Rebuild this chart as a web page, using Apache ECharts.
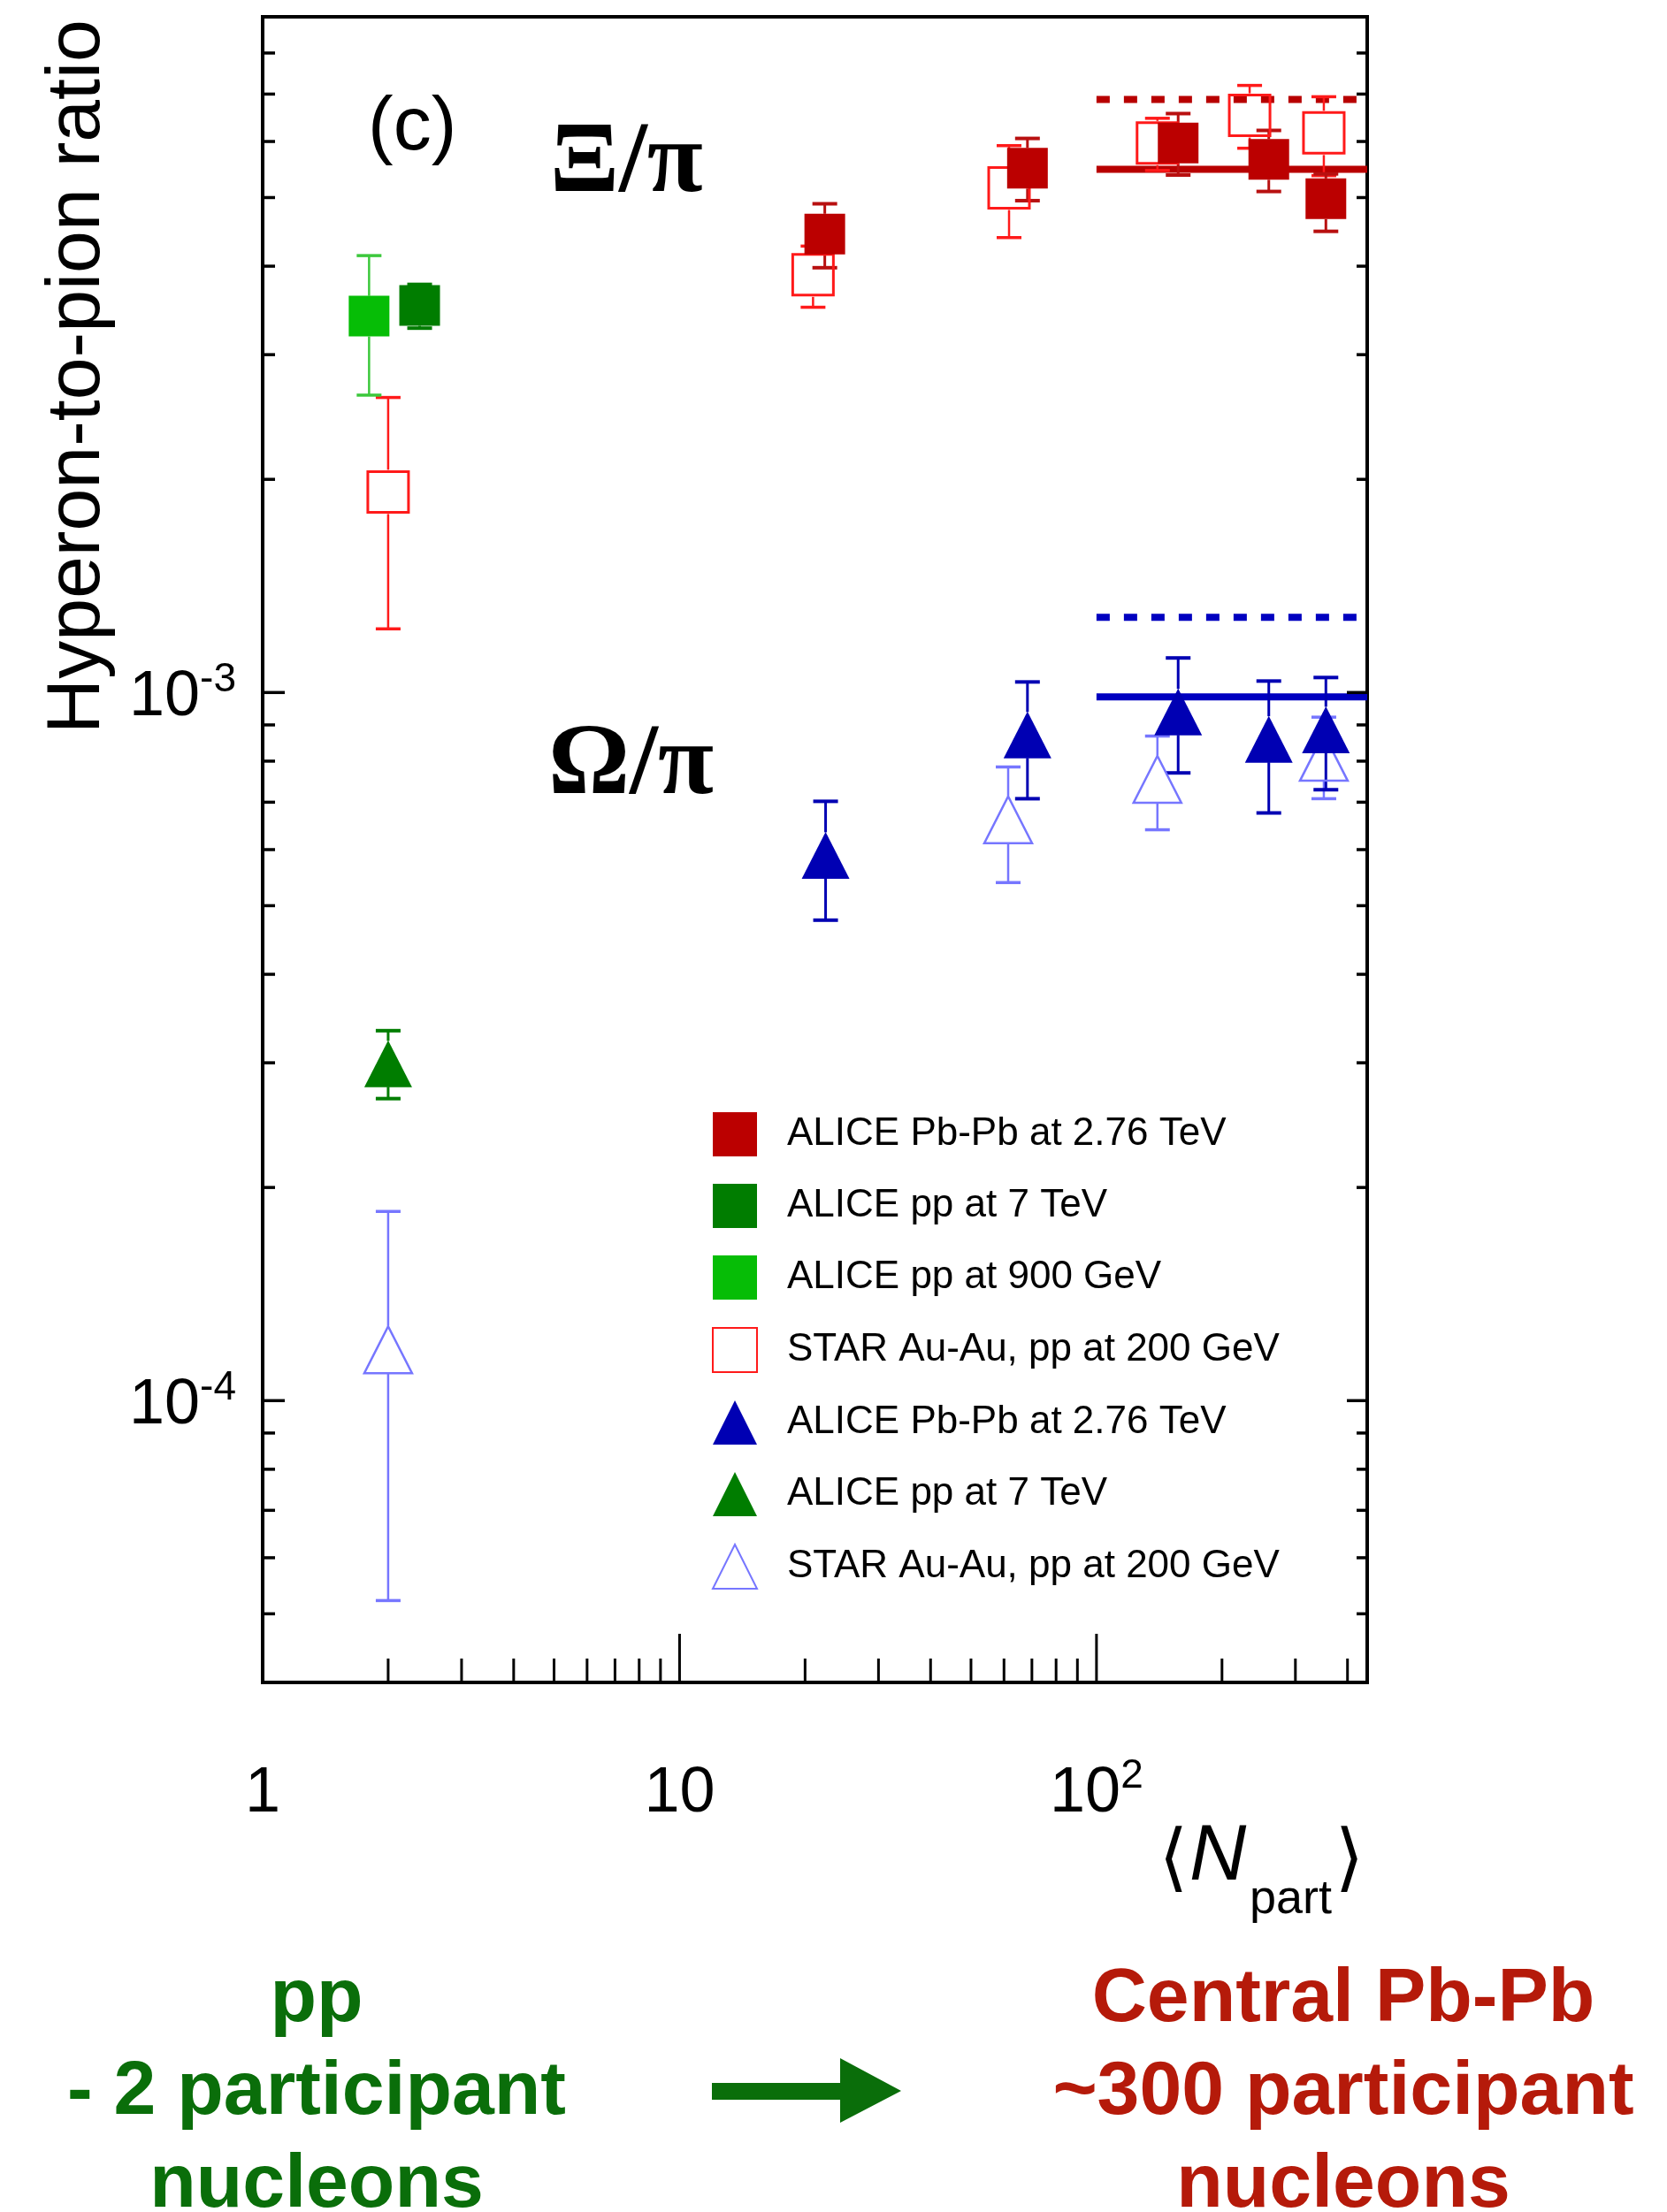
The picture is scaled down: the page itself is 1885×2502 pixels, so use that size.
<!DOCTYPE html>
<html><head><meta charset="utf-8">
<script src="https://cdn.jsdelivr.net/npm/echarts@6/dist/echarts.min.js"></script>
<style>html,body{margin:0;padding:0;background:#fff}#c{width:1885px;height:2502px}</style>
</head><body><div id="c"></div>
<script>
// ---------------- axis ranges ----------------
const X_MIN = 1, X_MAX = 446, Y_MIN = 4e-5, Y_MAX = 9e-3;

// ---------------- Xi/pi data ----------------
// ALICE Pb-Pb at 2.76 TeV
const xiPbPbN   = [22.3, 68.3, 157, 259, 355];
const xiPbPbVal = [4.44e-3, 5.50e-3, 5.97e-3, 5.66e-3, 4.98e-3];
const xiPbPbLo  = [3.98e-3, 4.95e-3, 5.38e-3, 5.10e-3, 4.48e-3];
const xiPbPbHi  = [4.90e-3, 6.06e-3, 6.57e-3, 6.22e-3, 5.40e-3];
// ALICE pp at 7 TeV
const xiPp7N   = [2.38];
const xiPp7Val = [3.52e-3];
const xiPp7Lo  = [3.27e-3];
const xiPp7Hi  = [3.77e-3];
// ALICE pp at 900 GeV
const xiPp900N   = [1.8];
const xiPp900Val = [3.40e-3];
const xiPp900Lo  = [2.63e-3];
const xiPp900Hi  = [4.14e-3];
// STAR Au-Au, pp at 200 GeV
const xiStarN   = [2.0, 20.9, 61.7, 140, 233, 351];
const xiStarVal = [1.92e-3, 3.89e-3, 5.16e-3, 5.97e-3, 6.53e-3, 6.17e-3];
const xiStarLo  = [1.23e-3, 3.50e-3, 4.39e-3, 5.46e-3, 5.87e-3, 5.37e-3];
const xiStarHi  = [2.61e-3, 4.27e-3, 5.92e-3, 6.47e-3, 7.20e-3, 6.94e-3];

// ---------------- Omega/pi data ----------------
const omPbPbN   = [22.4, 68.3, 157, 259, 355];
const omPbPbVal = [5.89e-4, 8.71e-4, 9.39e-4, 8.59e-4, 8.86e-4];
const omPbPbLo  = [4.77e-4, 7.08e-4, 7.70e-4, 6.76e-4, 7.29e-4];
const omPbPbHi  = [7.02e-4, 1.035e-3, 1.119e-3, 1.038e-3, 1.05e-3];
const omPp7N   = [2.0];
const omPp7Val = [2.99e-4];
const omPp7Lo  = [2.67e-4];
const omPp7Hi  = [3.33e-4];
const omStarN   = [2.0, 61.4, 140, 351];
const omStarVal = [1.18e-4, 6.61e-4, 7.54e-4, 8.10e-4];
const omStarLo  = [5.22e-5, 5.39e-4, 6.40e-4, 7.08e-4];
const omStarHi  = [1.85e-4, 7.85e-4, 8.68e-4, 9.23e-4];

// ---------------- model lines ----------------
const modelN = [100, 446];
const xiModelSolid = 5.48e-3, xiModelDotted = 6.88e-3;
const omModelSolid = 9.86e-4, omModelDotted = 1.277e-3;

// ---------------- ticks ----------------
const xMinorTicks = [2,3,4,5,6,7,8,9,20,30,40,50,60,70,80,90,200,300,400];
const xMajorTicks = [10, 100];
const yMinorTicks = [5e-5,6e-5,7e-5,8e-5,9e-5,2e-4,3e-4,4e-4,5e-4,6e-4,7e-4,8e-4,9e-4,2e-3,3e-3,4e-3,5e-3,6e-3,7e-3,8e-3];
const yMajorTicks = [1e-4, 1e-3];

// ---------------- texts ----------------
const legendKeys = ['xiPbPb','xiPp7','xiPp900','xiStar','omPbPb','omPp7','omStar'];
const legendLabels = ['ALICE Pb-Pb at 2.76 TeV','ALICE pp at 7 TeV','ALICE pp at 900 GeV','STAR Au-Au, pp at 200 GeV','ALICE Pb-Pb at 2.76 TeV','ALICE pp at 7 TeV','STAR Au-Au, pp at 200 GeV'];
const yTitle = 'Hyperon-to-pion ratio';
const leftLines = ['pp', '- 2 participant', 'nucleons'];
const rightLines = ['Central Pb-Pb', '~300 participant', 'nucleons'];

const SANS = '"Liberation Sans", Arial, Helvetica, sans-serif';
const NARROW = '"Liberation Sans Narrow", "Liberation Sans", Arial, sans-serif';
const SERIF = '"Liberation Serif", "Times New Roman", serif';

function powLabel(v) {
  const l = Math.log10(v), e = Math.round(l);
  if (Math.abs(l - e) > 1e-6) return '';
  if (e === 0) return '{b|1}';
  if (e === 1) return '{b|10}';
  return '{b|10}{s|' + (e < 0 ? '-' : '') + Math.abs(e) + '}';
}
const labelRich = {
  b: {fontSize: 72, lineHeight: 74, padding: [12, 0, 0, 0], fontFamily: NARROW, color: '#000'},
  s: {fontSize: 46, lineHeight: 48, verticalAlign: 'top', fontFamily: NARROW, color: '#000'}
};

function scatter(key, xs, ys, symbol, size, itemStyle, z) {
  itemStyle.opacity = 1;
  return {type: 'scatter', name: key, data: xs.map((x, i) => [x, ys[i]]),
    symbol: symbol, symbolSize: size, itemStyle: itemStyle, z: z, silent: true};
}
function errBars(xs, ys, lo, hi, color, half, lw) {
  return {type: 'custom', silent: true, z: 2, clip: false,
    data: xs.map((x, i) => [x, ys[i], lo[i], hi[i]]),
    encode: {x: 0, y: 1},
    renderItem: function (p, api) {
      const c = api.coord([api.value(0), api.value(1)]);
      const ph = api.coord([api.value(0), api.value(3)]);
      const pl = api.coord([api.value(0), api.value(2)]);
      const st = {stroke: color, lineWidth: lw};
      const cap = 14, ch = [];
      if (ph[1] < c[1] - half) ch.push({type: 'line', shape: {x1: c[0], y1: ph[1], x2: c[0], y2: c[1] - half}, style: st});
      if (pl[1] > c[1] + half) ch.push({type: 'line', shape: {x1: c[0], y1: c[1] + half, x2: c[0], y2: pl[1]}, style: st});
      ch.push({type: 'line', shape: {x1: c[0] - cap, y1: ph[1], x2: c[0] + cap, y2: ph[1]}, style: {stroke: color, lineWidth: lw + 1}});
      ch.push({type: 'line', shape: {x1: c[0] - cap, y1: pl[1], x2: c[0] + cap, y2: pl[1]}, style: {stroke: color, lineWidth: lw + 1}});
      return {type: 'group', children: ch};
    }};
}
function modelLine(v, color, dashed) {
  return {type: 'line', silent: true, z: 1, symbol: 'none',
    data: modelN.map(x => [x, v]),
    lineStyle: {color: color, width: 8, type: dashed ? [15, 16] : 'solid', cap: 'butt'}};
}

const C = {
  xiPbPb: '#bb0000', pp7: '#007d00', pp900: '#06bd06', star: '#ff1a1a',
  omPbPb: '#0000b3', omStar: '#7676ff', greenErr: '#3cc83c'
};

const series = [
  modelLine(xiModelSolid, '#b80000', false),
  modelLine(xiModelDotted, '#b80000', true),
  modelLine(omModelSolid, '#0000c0', false),
  modelLine(omModelDotted, '#0000c0', true),
  errBars(xiStarN, xiStarVal, xiStarLo, xiStarHi, C.star, 25, 2.5),
  errBars(xiPbPbN, xiPbPbVal, xiPbPbLo, xiPbPbHi, '#b81010', 23, 3),
  errBars(xiPp7N, xiPp7Val, xiPp7Lo, xiPp7Hi, C.pp7, 23, 3),
  errBars(xiPp900N, xiPp900Val, xiPp900Lo, xiPp900Hi, C.greenErr, 23, 2.5),
  errBars(omStarN, omStarVal, omStarLo, omStarHi, C.omStar, 27, 2.5),
  errBars(omPbPbN, omPbPbVal, omPbPbLo, omPbPbHi, C.omPbPb, 26, 3),
  errBars(omPp7N, omPp7Val, omPp7Lo, omPp7Hi, C.pp7, 26, 3),
  scatter('xiStar', xiStarN, xiStarVal, 'rect', 46, {color: 'rgba(255,255,255,0)', borderColor: C.star, borderWidth: 3}, 3),
  scatter('omStar', omStarN, omStarVal, 'triangle', [54, 53], {color: 'rgba(255,255,255,0)', borderColor: C.omStar, borderWidth: 2.5}, 3),
  scatter('xiPbPb', xiPbPbN, xiPbPbVal, 'rect', 46, {color: C.xiPbPb}, 4),
  scatter('xiPp7', xiPp7N, xiPp7Val, 'rect', 46, {color: C.pp7}, 4),
  scatter('xiPp900', xiPp900N, xiPp900Val, 'rect', 46, {color: C.pp900}, 4),
  scatter('omPbPb', omPbPbN, omPbPbVal, 'triangle', [54, 53], {color: C.omPbPb}, 4),
  scatter('omPp7', omPp7N, omPp7Val, 'triangle', [54, 53], {color: C.pp7}, 4),
  // axis ticks (inside), drawn through the axis scales
  {type: 'custom', silent: true, z: 6, clip: false,
   data: xMinorTicks.map(v => [v, Y_MIN, 0]).concat(xMajorTicks.map(v => [v, Y_MIN, 1])),
   encode: {x: 0, y: 1},
   renderItem: function (p, api) {
     const pt = api.coord([api.value(0), Y_MIN]);
     const len = api.value(2) ? 55 : 27;
     return {type: 'line', shape: {x1: pt[0], y1: pt[1], x2: pt[0], y2: pt[1] - len}, style: {stroke: '#000', lineWidth: 3}};
   }},
  {type: 'custom', silent: true, z: 6, clip: false,
   data: yMinorTicks.map(v => [X_MIN, v, 0]).concat(yMajorTicks.map(v => [X_MIN, v, 1])),
   encode: {x: 0, y: 1},
   renderItem: function (p, api) {
     const pl = api.coord([X_MIN, api.value(1)]);
     const pr = api.coord([X_MAX, api.value(1)]);
     const major = api.value(2) === 1;
     const ll = major ? 25 : 14, lr = major ? 23 : 12;
     return {type: 'group', children: [
       {type: 'line', shape: {x1: pl[0], y1: pl[1], x2: pl[0] + ll, y2: pl[1]}, style: {stroke: '#000', lineWidth: 3.5}},
       {type: 'line', shape: {x1: pr[0], y1: pr[1], x2: pr[0] - lr, y2: pr[1]}, style: {stroke: '#000', lineWidth: 3.5}}
     ]};
   }}
];

const chart = echarts.init(document.getElementById('c'), null, {renderer: 'canvas'});
chart.setOption({
  animation: false,
  backgroundColor: '#fff',
  grid: {left: 297, right: 339, top: 19, bottom: 599, show: true, borderColor: '#000', borderWidth: 4, backgroundColor: 'rgba(0,0,0,0)'},
  xAxis: {type: 'log', logBase: 10, min: X_MIN, max: X_MAX,
    axisLine: {show: false}, axisTick: {show: false}, splitLine: {show: false}, minorTick: {show: false},
    axisLabel: {formatter: powLabel, rich: labelRich, margin: 83, showMaxLabel: false, showMinLabel: true}},
  yAxis: {type: 'log', logBase: 10, min: Y_MIN, max: Y_MAX,
    axisLine: {show: false}, axisTick: {show: false}, splitLine: {show: false},
    axisLabel: {formatter: powLabel, rich: labelRich, margin: 30, showMaxLabel: false, showMinLabel: false}},
  legend: {
    orient: 'vertical', left: 800, top: 1253, itemWidth: 50, itemHeight: 50, itemGap: 31,
    selectedMode: false,
    data: legendKeys,
    formatter: function (n) { return legendLabels[legendKeys.indexOf(n)]; },
    textStyle: {fontSize: 44, lineHeight: 50, color: '#000', fontFamily: SANS, padding: [0, 0, 0, 29]}
  },
  series: series,
  graphic: [
    {type: 'text', x: 88, y: 426, rotation: Math.PI / 2,
     style: {text: yTitle, fontSize: 86, fontFamily: SANS, fill: '#000', align: 'center', verticalAlign: 'middle'}},
    {type: 'text', x: 416, y: 145, style: {text: '(c)', fontSize: 86, fontFamily: SANS, fill: '#000', align: 'left', verticalAlign: 'middle'}},
    {type: 'text', x: 622, y: 186, style: {text: 'Ξ/π', fontSize: 115, fontWeight: 'bold', fontFamily: SERIF, fill: '#000', align: 'left', verticalAlign: 'middle'}},
    {type: 'text', x: 620, y: 867, style: {text: 'Ω/π', fontSize: 115, fontWeight: 'bold', fontFamily: SERIF, fill: '#000', align: 'left', verticalAlign: 'middle'}},
    {type: 'text', x: 1327, y: 2107, style: {text: '⟨', fontSize: 84, fontFamily: '"DejaVu Sans", sans-serif', fill: '#000', align: 'center', verticalAlign: 'middle'}},
    {type: 'text', x: 1345, y: 2101, style: {text: 'N', fontSize: 89, fontStyle: 'italic', fontFamily: SANS, fill: '#000', align: 'left', verticalAlign: 'middle'}},
    {type: 'text', x: 1413, y: 2149, style: {text: 'part', fontSize: 54, fontFamily: SANS, fill: '#000', align: 'left', verticalAlign: 'middle'}},
    {type: 'text', x: 1526, y: 2107, style: {text: '⟩', fontSize: 84, fontFamily: '"DejaVu Sans", sans-serif', fill: '#000', align: 'center', verticalAlign: 'middle'}},
    {type: 'text', x: 358, y: 2262, style: {text: leftLines[0], fontSize: 86, fontWeight: 'bold', fontFamily: SANS, fill: '#0a6e0a', align: 'center', verticalAlign: 'middle'}},
    {type: 'text', x: 358, y: 2367, style: {text: leftLines[1], fontSize: 86, fontWeight: 'bold', fontFamily: SANS, fill: '#0a6e0a', align: 'center', verticalAlign: 'middle'}},
    {type: 'text', x: 358, y: 2472, style: {text: leftLines[2], fontSize: 86, fontWeight: 'bold', fontFamily: SANS, fill: '#0a6e0a', align: 'center', verticalAlign: 'middle'}},
    {type: 'text', x: 1519, y: 2262, style: {text: rightLines[0], fontSize: 86, fontWeight: 'bold', fontFamily: SANS, fill: '#b51a0a', align: 'center', verticalAlign: 'middle'}},
    {type: 'text', x: 1519, y: 2367, style: {text: rightLines[1], fontSize: 86, fontWeight: 'bold', fontFamily: SANS, fill: '#b51a0a', align: 'center', verticalAlign: 'middle'}},
    {type: 'text', x: 1519, y: 2472, style: {text: rightLines[2], fontSize: 86, fontWeight: 'bold', fontFamily: SANS, fill: '#b51a0a', align: 'center', verticalAlign: 'middle'}},
    {type: 'polygon', shape: {points: [[805, 2356], [950, 2356], [950, 2328], [1019, 2365], [950, 2401], [950, 2375], [805, 2375]]},
     style: {fill: '#0a6e0a'}}
  ]
});
</script>
</body></html>
